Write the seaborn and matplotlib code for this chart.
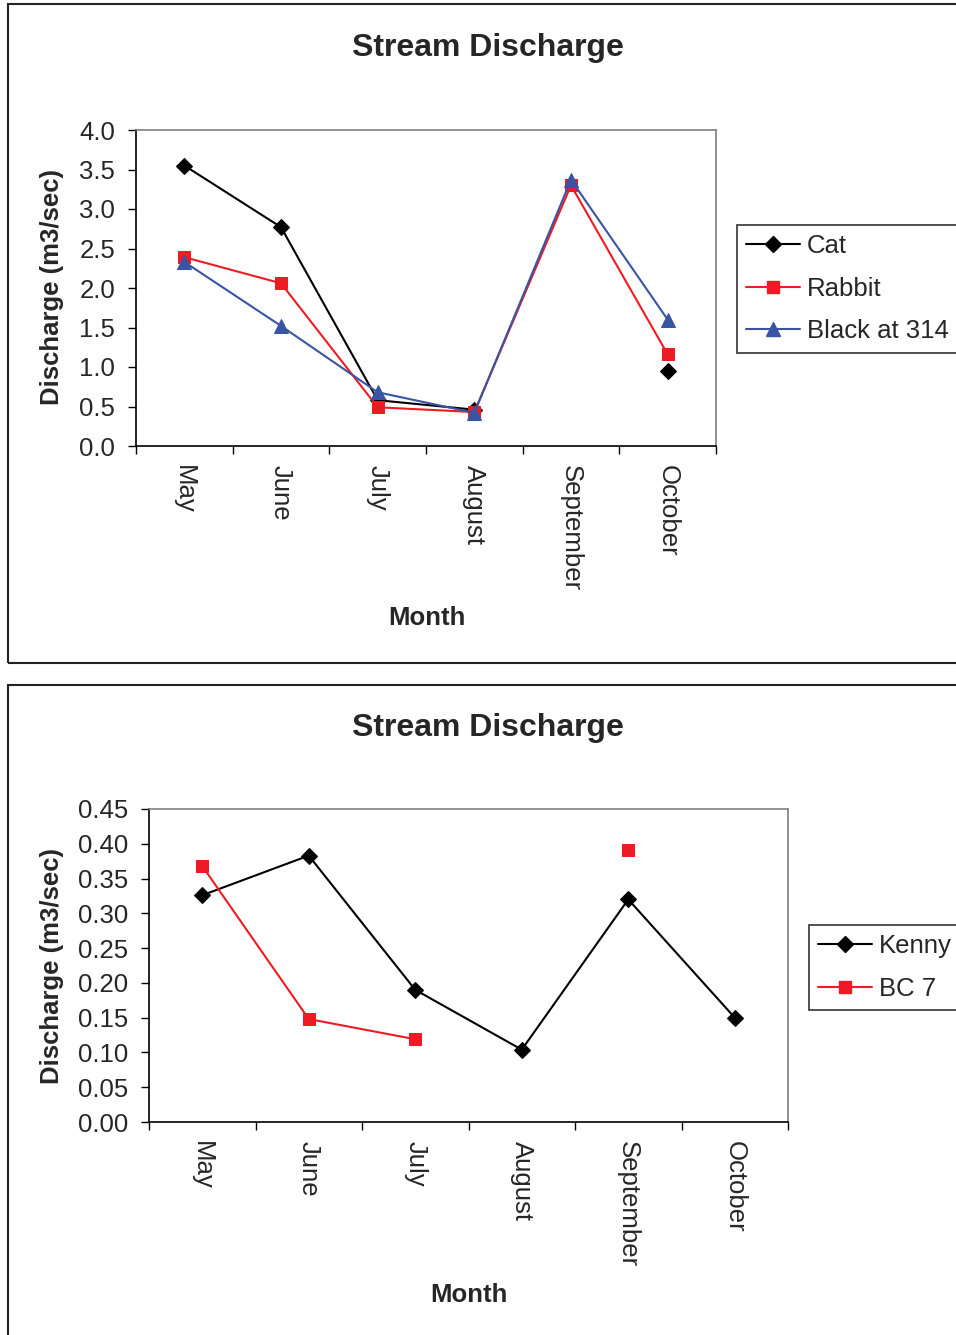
import numpy as np
import pandas as pd
import matplotlib
matplotlib.use("Agg")
import matplotlib.pyplot as plt
from matplotlib.lines import Line2D
from matplotlib.patches import Rectangle
import seaborn as sns

months = ["May", "June", "July", "August", "September", "October"]

# Upper chart series (m3/sec); NaN = no measurement
cat = [3.55, 2.77, 0.58, 0.46, np.nan, 0.95]
rabbit = [2.39, 2.06, 0.49, 0.43, 3.30, 1.16]
black_314 = [2.33, 1.52, 0.68, 0.42, 3.37, 1.60]

# Lower chart series (m3/sec)
kenny = [0.326, 0.383, 0.190, 0.104, 0.320, 0.150]
bc7 = [0.368, 0.148, 0.119, np.nan, 0.391, np.nan]

top_ticks = [0.0, 0.5, 1.0, 1.5, 2.0, 2.5, 3.0, 3.5, 4.0]
bottom_ticks = [0.00, 0.05, 0.10, 0.15, 0.20, 0.25, 0.30, 0.35, 0.40, 0.45]

RED = "#ED1C24"
BLUE = "#3A54A4"
BLACK = "#000000"

sns.set_theme(style="white")
plt.rcParams["font.family"] = ["Liberation Sans", "DejaVu Sans"]

W, H = 956, 1335
fig = plt.figure(figsize=(W / 100, H / 100), dpi=100)
fig.patch.set_facecolor("white")


def fx(px):
    return px / W


def fy(py):
    return 1 - py / H


def draw_series(ax, values, color, marker, msize):
    df = pd.DataFrame({"pos": np.arange(len(values)), "val": values})
    # split into contiguous runs so that gaps stay open
    df["run"] = df["val"].isna().cumsum()
    df = df.dropna()
    for _, part in df.groupby("run"):
        sns.lineplot(data=part, x="pos", y="val", ax=ax, color=color,
                     linewidth=1.5, marker=marker, markersize=msize,
                     markeredgecolor=color, markerfacecolor=color,
                     sort=False, estimator=None, legend=False)


def style_axes(ax, ymax, yticks, fmt):
    ax.set_xlim(-0.5, len(months) - 0.5)
    ax.set_ylim(0, ymax)
    ax.set_yticks(yticks)
    ax.set_yticklabels([fmt.format(v) for v in yticks], fontsize=18.5)
    ax.set_xticks(np.arange(-0.5, len(months)))
    ax.set_xticklabels([])
    ax.set_xticks(np.arange(len(months)), minor=True)
    ax.set_xticklabels(months, minor=True, rotation=-90, fontsize=18.5,
                       va="top", ha="center")
    ax.tick_params(axis="x", which="major", direction="out", length=6,
                   width=1, color="black", bottom=True)
    ax.tick_params(axis="x", which="minor", length=0, pad=14, bottom=True)
    ax.tick_params(axis="y", direction="out", length=6, width=1,
                   color="black", left=True, pad=9)
    for side in ("left", "bottom"):
        ax.spines[side].set_color("black")
        ax.spines[side].set_linewidth(1.2)
    for side in ("top", "right"):
        ax.spines[side].set_color("#808080")
        ax.spines[side].set_linewidth(1.2)
    ax.set_xlabel("")
    ax.set_ylabel("")
    ax.grid(False)
    ax.set_facecolor("white")


def add_legend(handles, labels, x, y):
    leg = fig.legend(handles, labels, loc="upper left",
                     bbox_to_anchor=(fx(x), fy(y)),
                     fontsize=18.5, frameon=True, fancybox=False,
                     edgecolor="#333333", framealpha=1, borderpad=0.36,
                     handlelength=2.1, handletextpad=0.25, labelspacing=0.72,
                     borderaxespad=0)
    leg.get_frame().set_linewidth(1.2)
    return leg


# panel frames
fig.patches.append(Rectangle((fx(8), fy(663)), fx(1000), fy(4) - fy(663),
                             transform=fig.transFigure, fill=False,
                             edgecolor="#222222", linewidth=1.5))
fig.patches.append(Rectangle((fx(8), fy(1345)), fx(1000), fy(685) - fy(1345),
                             transform=fig.transFigure, fill=False,
                             edgecolor="#222222", linewidth=1.5))

# ---- upper chart ----
ax1 = fig.add_axes([fx(136), fy(446), fx(716 - 136), (446 - 130) / H])
draw_series(ax1, cat, BLACK, "D", 8)
draw_series(ax1, rabbit, RED, "s", 8)
draw_series(ax1, black_314, BLUE, "^", 9.5)
style_axes(ax1, 4.0, top_ticks, "{:.1f}")

fig.text(fx(488), fy(48), "Stream Discharge", fontsize=23, fontweight="bold",
         ha="center", va="center")
fig.text(fx(52), fy(287), "Discharge (m3/sec)", fontsize=18.5,
         fontweight="bold", rotation=90, ha="center", va="center")
fig.text(fx(427), fy(618), "Month", fontsize=18.5, fontweight="bold",
         ha="center", va="center")

h1 = [Line2D([], [], color=BLACK, lw=1.5, marker="D", ms=8),
      Line2D([], [], color=RED, lw=1.5, marker="s", ms=8),
      Line2D([], [], color=BLUE, lw=1.5, marker="^", ms=9.5)]
add_legend(h1, ["Cat", "Rabbit", "Black at 314"], 737, 225)

# ---- lower chart ----
ax2 = fig.add_axes([fx(149), fy(1122), fx(788 - 149), (1122 - 809) / H])
draw_series(ax2, kenny, BLACK, "D", 8)
draw_series(ax2, bc7, RED, "s", 8)
style_axes(ax2, 0.45, bottom_ticks, "{:.2f}")

fig.text(fx(488), fy(728), "Stream Discharge", fontsize=23, fontweight="bold",
         ha="center", va="center")
fig.text(fx(52), fy(966), "Discharge (m3/sec)", fontsize=18.5,
         fontweight="bold", rotation=90, ha="center", va="center")
fig.text(fx(469), fy(1295), "Month", fontsize=18.5, fontweight="bold",
         ha="center", va="center")

h2 = [Line2D([], [], color=BLACK, lw=1.5, marker="D", ms=8),
      Line2D([], [], color=RED, lw=1.5, marker="s", ms=8)]
add_legend(h2, ["Kenny", "BC 7"], 809, 925)

fig.savefig("out.png", dpi=100, facecolor="white")
